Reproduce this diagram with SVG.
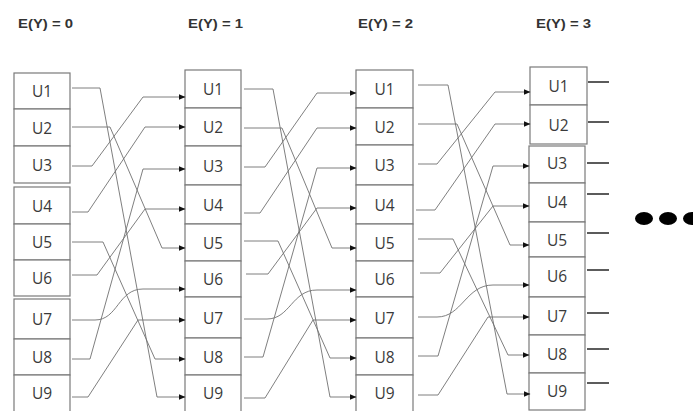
<svg xmlns="http://www.w3.org/2000/svg" width="693" height="411" viewBox="0 0 693 411">
<style>
.box{fill:#fff;stroke:#7a7a7a;stroke-width:1.2}
.lbl{font-family:"Open Sans","Liberation Sans",sans-serif;font-size:15.5px;fill:#3a3a3a;text-anchor:middle;dominant-baseline:central}
.ttl{font-family:"Liberation Sans",Arial,sans-serif;font-size:13.5px;font-weight:bold;fill:#333}
.c{fill:none;stroke:#707070;stroke-width:0.9;marker-end:url(#ah)}
.stub{stroke:#333;stroke-width:1.6}
</style>
<defs>
<marker id="ah" markerWidth="7" markerHeight="6" refX="6.5" refY="3" orient="auto" markerUnits="userSpaceOnUse">
<path d="M0,0 L7,3 L0,6 z" fill="#111"/>
</marker>
</defs>
<g id="titles">
<text class="ttl" x="18" y="28" textLength="55" lengthAdjust="spacingAndGlyphs">E(Y) = 0</text>
<text class="ttl" x="188" y="28" textLength="55" lengthAdjust="spacingAndGlyphs">E(Y) = 1</text>
<text class="ttl" x="358" y="28" textLength="55" lengthAdjust="spacingAndGlyphs">E(Y) = 2</text>
<text class="ttl" x="536" y="28" textLength="55" lengthAdjust="spacingAndGlyphs">E(Y) = 3</text>
</g>
<g id="col0">
<g id="c0u1"><rect class="box" x="14" y="73" width="56" height="36"/><text class="lbl" x="42" y="91">U1</text></g>
<g id="c0u2"><rect class="box" x="14" y="109" width="56" height="37"/><text class="lbl" x="42" y="127.5">U2</text></g>
<g id="c0u3"><rect class="box" x="14" y="146" width="56" height="37"/><text class="lbl" x="42" y="165">U3</text></g>
<g id="c0u4"><rect class="box" x="14" y="187" width="56" height="37"/><text class="lbl" x="42" y="206">U4</text></g>
<g id="c0u5"><rect class="box" x="14" y="224" width="56" height="36"/><text class="lbl" x="42" y="242">U5</text></g>
<g id="c0u6"><rect class="box" x="14" y="260" width="56" height="36"/><text class="lbl" x="42" y="278">U6</text></g>
<g id="c0u7"><rect class="box" x="14" y="299" width="56" height="40"/><text class="lbl" x="42" y="319">U7</text></g>
<g id="c0u8"><rect class="box" x="14" y="339" width="56" height="36"/><text class="lbl" x="42" y="357">U8</text></g>
<g id="c0u9"><rect class="box" x="14" y="375" width="56" height="37"/><text class="lbl" x="42" y="393">U9</text></g>
</g>
<g id="col1">
<g id="c1u1"><rect class="box" x="185" y="70" width="56" height="38"/><text class="lbl" x="213" y="89">U1</text></g>
<g id="c1u2"><rect class="box" x="185" y="108" width="56" height="38"/><text class="lbl" x="213" y="127">U2</text></g>
<g id="c1u3"><rect class="box" x="185" y="146" width="56" height="39"/><text class="lbl" x="213" y="165.5">U3</text></g>
<g id="c1u4"><rect class="box" x="185" y="185" width="56" height="39"/><text class="lbl" x="213" y="204.5">U4</text></g>
<g id="c1u5"><rect class="box" x="185" y="224" width="56" height="37"/><text class="lbl" x="213" y="242.5">U5</text></g>
<g id="c1u6"><rect class="box" x="185" y="261" width="56" height="36"/><text class="lbl" x="213" y="279">U6</text></g>
<g id="c1u7"><rect class="box" x="185" y="297" width="56" height="41"/><text class="lbl" x="213" y="317.5">U7</text></g>
<g id="c1u8"><rect class="box" x="185" y="338" width="56" height="37"/><text class="lbl" x="213" y="356.5">U8</text></g>
<g id="c1u9"><rect class="box" x="185" y="375" width="56" height="37"/><text class="lbl" x="213" y="393">U9</text></g>
</g>
<g id="col2">
<g id="c2u1"><rect class="box" x="356" y="70" width="57" height="38"/><text class="lbl" x="384.5" y="89">U1</text></g>
<g id="c2u2"><rect class="box" x="356" y="108" width="57" height="37"/><text class="lbl" x="384.5" y="126.5">U2</text></g>
<g id="c2u3"><rect class="box" x="356" y="145" width="57" height="40"/><text class="lbl" x="384.5" y="165">U3</text></g>
<g id="c2u4"><rect class="box" x="356" y="185" width="57" height="39"/><text class="lbl" x="384.5" y="204.5">U4</text></g>
<g id="c2u5"><rect class="box" x="356" y="224" width="57" height="37"/><text class="lbl" x="384.5" y="242.5">U5</text></g>
<g id="c2u6"><rect class="box" x="356" y="261" width="57" height="36"/><text class="lbl" x="384.5" y="279">U6</text></g>
<g id="c2u7"><rect class="box" x="356" y="297" width="57" height="41"/><text class="lbl" x="384.5" y="317.5">U7</text></g>
<g id="c2u8"><rect class="box" x="356" y="338" width="57" height="37"/><text class="lbl" x="384.5" y="356.5">U8</text></g>
<g id="c2u9"><rect class="box" x="356" y="375" width="57" height="37"/><text class="lbl" x="384.5" y="393">U9</text></g>
</g>
<g id="col3">
<g id="c3u1"><rect class="box" x="530" y="67" width="57" height="38"/><text class="lbl" x="558.5" y="86">U1</text></g>
<g id="c3u2"><rect class="box" x="530" y="105" width="57" height="39"/><text class="lbl" x="558.5" y="124.5">U2</text></g>
<g id="c3u3"><rect class="box" x="529" y="146" width="56" height="37"/><text class="lbl" x="557" y="163">U3</text></g>
<g id="c3u4"><rect class="box" x="529" y="183" width="56" height="39"/><text class="lbl" x="557" y="202">U4</text></g>
<g id="c3u5"><rect class="box" x="529" y="222" width="56" height="35"/><text class="lbl" x="557" y="239.5">U5</text></g>
<g id="c3u6"><rect class="box" x="529" y="257" width="56" height="40"/><text class="lbl" x="557" y="276">U6</text></g>
<g id="c3u7"><rect class="box" x="529" y="297" width="56" height="38"/><text class="lbl" x="557" y="316">U7</text></g>
<g id="c3u8"><rect class="box" x="529" y="335" width="56" height="38"/><text class="lbl" x="557" y="354">U8</text></g>
<g id="c3u9"><rect class="box" x="529" y="373" width="56" height="37"/><text class="lbl" x="557" y="391">U9</text></g>
</g>
<g id="connectors">
<path class="c" d="M72,88 H100 L157,397 H185"/>
<path class="c" d="M72,127 H110 L162,248 H185"/>
<path class="c" d="M72,166 H92 L143,97 H185"/>
<path class="c" d="M72,212 H88 L145,127 H185"/>
<path class="c" d="M72,242 H103 L155,359 H185"/>
<path class="c" d="M72,275 H97 L145,209 H185"/>
<path class="c" d="M72,320 H95 C118,320 118,289 143,289 H185"/>
<path class="c" d="M72,359 H90 L143,169 H185"/>
<path class="c" d="M72,397 H88 L138,320 H185"/>

<path class="c" d="M244,89 H273 L330,397 H356"/>
<path class="c" d="M244,128 H282 L332,248 H356"/>
<path class="c" d="M244,167 H265 L317,93 H356"/>
<path class="c" d="M244,213 H260 L317,128 H356"/>
<path class="c" d="M244,241 H278 L330,358 H356"/>
<path class="c" d="M246,274 H268 L317,208 H356"/>
<path class="c" d="M244,319 H267 C290,319 292,290 317,290 H356"/>
<path class="c" d="M244,357 H263 L317,168 H356"/>
<path class="c" d="M244,398 H265 L313,320 H356"/>

<path class="c" d="M418,85 H448 L507,394 H530"/>
<path class="c" d="M418,124 H457 L510,245 H529"/>
<path class="c" d="M418,164 H437 L495,92 H530"/>
<path class="c" d="M416,210 H435 L495,124 H530"/>
<path class="c" d="M418,239 H453 L508,355 H529"/>
<path class="c" d="M420,273 H440 L493,206 H529"/>
<path class="c" d="M418,317 H437 C462,317 466,285 493,285 H529"/>
<path class="c" d="M418,356 H438 L493,166 H529"/>
<path class="c" d="M418,395 H438 L488,317 H529"/>
</g>
<g id="stubs">
<line class="stub" x1="588" y1="82" x2="609" y2="82"/>
<line class="stub" x1="588" y1="122" x2="609" y2="122"/>
<line class="stub" x1="587" y1="163" x2="609" y2="163"/>
<line class="stub" x1="587" y1="194" x2="609" y2="194"/>
<line class="stub" x1="587" y1="233" x2="609" y2="233"/>
<line class="stub" x1="587" y1="270" x2="609" y2="270"/>
<line class="stub" x1="587" y1="313" x2="609" y2="313"/>
<line class="stub" x1="587" y1="349" x2="609" y2="349"/>
<line class="stub" x1="587" y1="383" x2="609" y2="383"/>
</g>
<g id="ellipsis" fill="#000">
<ellipse cx="644" cy="218.5" rx="9" ry="6.5"/>
<ellipse cx="668" cy="218.5" rx="9" ry="6.5"/>
<ellipse cx="692" cy="218.5" rx="9" ry="6.5"/>
</g>
</svg>
